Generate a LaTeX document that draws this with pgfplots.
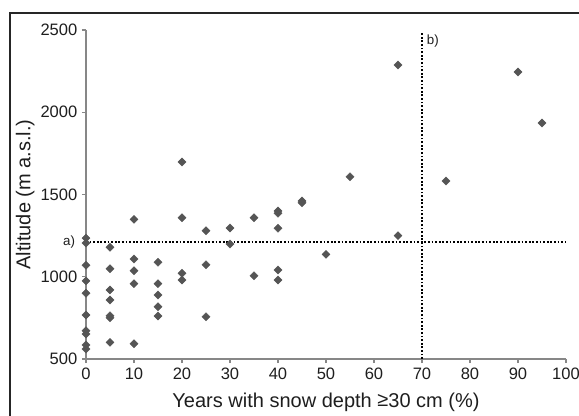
\documentclass[border=0pt]{standalone}
\usepackage{fontspec}
\setmainfont{Liberation Sans}
\usepackage{pgfplots}
\pgfplotsset{compat=1.18}
\definecolor{axisgray}{RGB}{135,135,135}
\definecolor{markgray}{RGB}{85,85,85}
\definecolor{txt}{RGB}{30,30,30}

\pgfplotstableread{
x y
0 1235
0 1205
0 1070
0 975
0 900
0 767
0 672
0 652
0 585
0 561
5 1179
5 1049
5 920
5 859
5 763
5 751
5 601
10 1349
10 1108
10 1037
10 958
10 593
15 1088
15 958
15 889
15 818
15 761
20 1698
20 1359
20 1021
20 980
25 1280
25 1073
25 757
30 1296
30 1199
35 1359
35 1006
40 1400
40 1386
40 1295
40 1041
40 980
45 1461
45 1450
50 1136
55 1608
65 2287
65 1250
75 1582
90 2245
95 1935
}\snowdata

\begin{document}
\begin{tikzpicture}
% page = 579 x 415 px at 0.75pt per px, axis origin at px (86,359)
\useasboundingbox (-64.5pt,-42pt) rectangle (369.75pt,269.25pt);
\draw[line width=0.8pt, black!85] (-57pt,-60pt) -- (-57pt,259.5pt) -- (400pt,259.5pt);
\begin{axis}[
  scale only axis, width=360pt, height=246.75pt,
  xmin=0, xmax=100, ymin=500, ymax=2500,
  axis x line*=bottom, axis y line*=left,
  axis line style={-, draw=axisgray, line width=0.8pt},
  xtick={0,10,...,100}, ytick={500,1000,...,2500},
  tick align=outside, major tick length=3pt,
  tick style={axisgray, line width=0.8pt},
  /pgf/number format/1000 sep={},
  /pgf/number format/assume math mode=true,
  tick label style={font=\fontsize{12.4}{14}\selectfont, text=txt},
  xlabel={Years with snow depth \raisebox{0.05em}{≥}30 cm (\%)},
  ylabel={Altitude (m a.s.l.)},
  every axis x label/.style={at={(axis description cs:0.5,0)}, anchor=base,
    yshift=-36pt, font=\fontsize{15}{18}\selectfont, text=txt},
  every axis y label/.style={at={(axis description cs:0,0.5)}, xshift=-41.8pt,
    rotate=90, anchor=base, font=\fontsize{15}{18}\selectfont, text=txt},
  clip=false,
]
\addplot[only marks, mark=square*, mark size=2.1pt,
  mark options={rotate=45, fill=markgray, draw=markgray}] table[x=x, y=y] {\snowdata};
\addplot[black, line width=1.4pt, dash pattern=on 1.4pt off 1.3pt] coordinates {(0,1210) (100,1210)};
\addplot[black, line width=1.4pt, dash pattern=on 1.4pt off 1.3pt] coordinates {(70,500) (70,2480)};
\node[anchor=east, inner sep=0pt, xshift=-8pt, font=\fontsize{10}{12}\selectfont, text=txt] at (axis cs:0,1210) {a)};
\node[anchor=west, inner sep=0pt, xshift=3.5pt, font=\fontsize{10}{12}\selectfont, text=txt] at (axis cs:70,2435) {b)};
\end{axis}
\end{tikzpicture}
\end{document}
